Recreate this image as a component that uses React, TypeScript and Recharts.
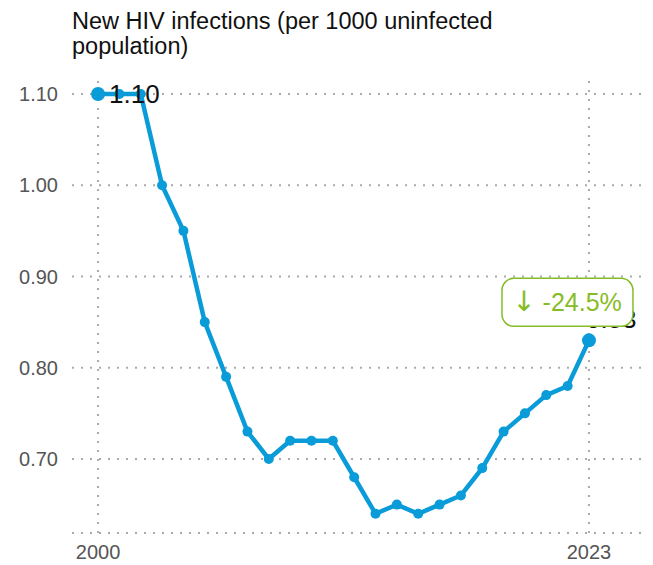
import { LineChart, Line, XAxis, YAxis, ReferenceLine } from "recharts";

const years = [2000, 2001, 2002, 2003, 2004, 2005, 2006, 2007, 2008, 2009, 2010, 2011, 2012, 2013, 2014, 2015, 2016, 2017, 2018, 2019, 2020, 2021, 2022, 2023];
const infections = [1.1, 1.1, 1.1, 1.0, 0.95, 0.85, 0.79, 0.73, 0.7, 0.72, 0.72, 0.72, 0.68, 0.64, 0.65, 0.64, 0.65, 0.66, 0.69, 0.73, 0.75, 0.77, 0.78, 0.83];
const yTicks = [0.7, 0.8, 0.9, 1.0, 1.1];
const xTicks = [2000, 2023];
const changeArrow = "↓";
const changeText = "-24.5%";

const blue = "#0a9bd9";
const green = "#86bc25";
const gridColor = "#aaa";
const font = "'Liberation Sans', Arial, sans-serif";

const data = years.map((y, i) => ({ year: y, value: infections[i] }));
const last = data.length - 1;

const Dot = (props: any) => {
  const { cx, cy, index } = props;
  const r = index === 0 || index === last ? 7 : 5;
  return <circle key={index} cx={cx} cy={cy} r={r} fill={blue} />;
};

const PointLabel = (props: any) => {
  const { x, y, index, value } = props;
  if (index === 0) {
    return (
      <text x={x + 11} y={y} dy="0.35em" fontSize={26} fill="#111" fontFamily={font}>
        {value.toFixed(2)}
      </text>
    );
  }
  if (index === last) {
    return (
      <g>
        <text x={x - 3} y={y - 21} dy="0.35em" fontSize={26} fill="#111" fontFamily={font}>
          {value.toFixed(2)}
        </text>
        <rect x={x - 87} y={y - 62} width={131} height={48} rx={12} fill="#fff" stroke={green} strokeWidth={1.5} />
        <text x={x - 22} y={y - 38} dy="0.35em" textAnchor="middle" fontSize={25} fill={green} fontFamily={font}>
          <tspan fontFamily="'DejaVu Sans', sans-serif" fontSize={28}>{changeArrow}</tspan>
          <tspan> {changeText}</tspan>
        </text>
      </g>
    );
  }
  return null;
};

export default function App() {
  return (
    <div style={{ position: "relative", width: 645, height: 557, fontFamily: font }}>
      <div
        style={{
          position: "absolute",
          left: 64,
          top: 1,
          fontSize: 23.5,
          lineHeight: "25px",
          color: "#111",
          zIndex: 1,
        }}
      >
        New HIV infections (per 1000 uninfected
        <br />
        population)
      </div>
      <LineChart width={645} height={557} data={data} margin={{ top: 67, right: 0, bottom: 0, left: 0 }}>
        <XAxis
          dataKey="year"
          type="number"
          domain={[1998.78, 2026]}
          ticks={xTicks}
          height={32}
          tickLine={false}
          tickMargin={6}
          axisLine={{ stroke: gridColor, strokeWidth: 2, strokeDasharray: "2 7" }}
          tick={{ fill: "#555", fontSize: 20, fontFamily: font }}
          allowDataOverflow
        />
        <YAxis
          type="number"
          domain={[0.6189, 1.1208]}
          ticks={yTicks}
          width={64}
          axisLine={false}
          tickLine={false}
          tickMargin={8}
          tickFormatter={(v: number) => v.toFixed(2)}
          tick={{ fill: "#555", fontSize: 20, fontFamily: font }}
          allowDataOverflow
        />
        {yTicks.map((t) => (
          <ReferenceLine key={"h" + t} y={t} stroke={gridColor} strokeWidth={2} strokeDasharray="2 7" />
        ))}
        {xTicks.map((t) => (
          <ReferenceLine key={"v" + t} x={t} stroke={gridColor} strokeWidth={2} strokeDasharray="2 7" />
        ))}
        <Line
          dataKey="value"
          stroke={blue}
          strokeWidth={4.5}
          dot={<Dot />}
          activeDot={false}
          label={<PointLabel />}
          isAnimationActive={false}
        />
      </LineChart>
    </div>
  );
}
